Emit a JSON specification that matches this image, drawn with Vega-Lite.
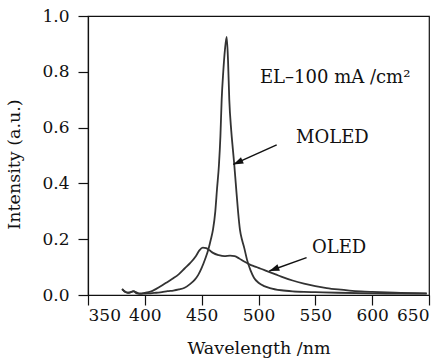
{
  "$schema": "https://vega.github.io/schema/vega-lite/v6.json",
  "autosize": "none",
  "width": 341,
  "height": 279,
  "padding": {"left": 88, "top": 16, "right": 14, "bottom": 65},
  "background": "white",
  "config": {
    "font": "DejaVu Serif",
    "view": {"stroke": "#111", "strokeWidth": 1.2},
    "axis": {
      "grid": false,
      "domainColor": "#111",
      "domainWidth": 1.2,
      "tickColor": "#111",
      "tickWidth": 1.2,
      "tickSize": 10,
      "labelFont": "DejaVu Serif",
      "labelFontSize": 17,
      "labelColor": "#111",
      "titleFont": "DejaVu Serif",
      "titleFontSize": 17.5,
      "titleFontWeight": "normal",
      "titleColor": "#111"
    }
  },
  "datasets": {
    "spectra": [
      {"series": "MOLED", "wl": 380, "I": 0.022},
      {"series": "MOLED", "wl": 383, "I": 0.01},
      {"series": "MOLED", "wl": 386, "I": 0.008},
      {"series": "MOLED", "wl": 390, "I": 0.014},
      {"series": "MOLED", "wl": 393, "I": 0.006},
      {"series": "MOLED", "wl": 397, "I": 0.004},
      {"series": "MOLED", "wl": 400, "I": 0.005},
      {"series": "MOLED", "wl": 405, "I": 0.006},
      {"series": "MOLED", "wl": 410, "I": 0.008},
      {"series": "MOLED", "wl": 415, "I": 0.01},
      {"series": "MOLED", "wl": 420, "I": 0.014},
      {"series": "MOLED", "wl": 425, "I": 0.016},
      {"series": "MOLED", "wl": 430, "I": 0.02},
      {"series": "MOLED", "wl": 435, "I": 0.026},
      {"series": "MOLED", "wl": 440, "I": 0.04},
      {"series": "MOLED", "wl": 444, "I": 0.055},
      {"series": "MOLED", "wl": 447, "I": 0.072},
      {"series": "MOLED", "wl": 450, "I": 0.097},
      {"series": "MOLED", "wl": 453, "I": 0.128},
      {"series": "MOLED", "wl": 456, "I": 0.165},
      {"series": "MOLED", "wl": 458, "I": 0.198},
      {"series": "MOLED", "wl": 460, "I": 0.235},
      {"series": "MOLED", "wl": 462, "I": 0.3},
      {"series": "MOLED", "wl": 463.5, "I": 0.38},
      {"series": "MOLED", "wl": 465.2, "I": 0.466},
      {"series": "MOLED", "wl": 466.5, "I": 0.57},
      {"series": "MOLED", "wl": 467.6, "I": 0.7},
      {"series": "MOLED", "wl": 469, "I": 0.8},
      {"series": "MOLED", "wl": 470.5, "I": 0.88},
      {"series": "MOLED", "wl": 472, "I": 0.925},
      {"series": "MOLED", "wl": 473.2, "I": 0.84},
      {"series": "MOLED", "wl": 474.3, "I": 0.7},
      {"series": "MOLED", "wl": 476, "I": 0.59},
      {"series": "MOLED", "wl": 477.5, "I": 0.52},
      {"series": "MOLED", "wl": 478.7, "I": 0.466},
      {"series": "MOLED", "wl": 480, "I": 0.4},
      {"series": "MOLED", "wl": 482, "I": 0.3},
      {"series": "MOLED", "wl": 483.7, "I": 0.233},
      {"series": "MOLED", "wl": 485.5, "I": 0.198},
      {"series": "MOLED", "wl": 487.5, "I": 0.168},
      {"series": "MOLED", "wl": 490, "I": 0.125},
      {"series": "MOLED", "wl": 493, "I": 0.088},
      {"series": "MOLED", "wl": 496, "I": 0.062},
      {"series": "MOLED", "wl": 500, "I": 0.044},
      {"series": "MOLED", "wl": 505, "I": 0.032},
      {"series": "MOLED", "wl": 510, "I": 0.025},
      {"series": "MOLED", "wl": 520, "I": 0.017},
      {"series": "MOLED", "wl": 530, "I": 0.013},
      {"series": "MOLED", "wl": 540, "I": 0.011},
      {"series": "MOLED", "wl": 550, "I": 0.01},
      {"series": "MOLED", "wl": 570, "I": 0.008},
      {"series": "MOLED", "wl": 600, "I": 0.006},
      {"series": "MOLED", "wl": 630, "I": 0.005},
      {"series": "MOLED", "wl": 648, "I": 0.005},
      {"series": "OLED", "wl": 380, "I": 0.02},
      {"series": "OLED", "wl": 385, "I": 0.008},
      {"series": "OLED", "wl": 390, "I": 0.013},
      {"series": "OLED", "wl": 395, "I": 0.006},
      {"series": "OLED", "wl": 400, "I": 0.008},
      {"series": "OLED", "wl": 405, "I": 0.012},
      {"series": "OLED", "wl": 410, "I": 0.022},
      {"series": "OLED", "wl": 415, "I": 0.034},
      {"series": "OLED", "wl": 420, "I": 0.047},
      {"series": "OLED", "wl": 425, "I": 0.06},
      {"series": "OLED", "wl": 430, "I": 0.075},
      {"series": "OLED", "wl": 435, "I": 0.095},
      {"series": "OLED", "wl": 440, "I": 0.115},
      {"series": "OLED", "wl": 445, "I": 0.14},
      {"series": "OLED", "wl": 448, "I": 0.16},
      {"series": "OLED", "wl": 451, "I": 0.17},
      {"series": "OLED", "wl": 454, "I": 0.168},
      {"series": "OLED", "wl": 457, "I": 0.16},
      {"series": "OLED", "wl": 460, "I": 0.151},
      {"series": "OLED", "wl": 465, "I": 0.143},
      {"series": "OLED", "wl": 470, "I": 0.139},
      {"series": "OLED", "wl": 475, "I": 0.141},
      {"series": "OLED", "wl": 479, "I": 0.139},
      {"series": "OLED", "wl": 483, "I": 0.131},
      {"series": "OLED", "wl": 487, "I": 0.121},
      {"series": "OLED", "wl": 492, "I": 0.11},
      {"series": "OLED", "wl": 497, "I": 0.102},
      {"series": "OLED", "wl": 502, "I": 0.094},
      {"series": "OLED", "wl": 508, "I": 0.085},
      {"series": "OLED", "wl": 515, "I": 0.074},
      {"series": "OLED", "wl": 520, "I": 0.066},
      {"series": "OLED", "wl": 530, "I": 0.052},
      {"series": "OLED", "wl": 540, "I": 0.041},
      {"series": "OLED", "wl": 550, "I": 0.032},
      {"series": "OLED", "wl": 560, "I": 0.025},
      {"series": "OLED", "wl": 570, "I": 0.02},
      {"series": "OLED", "wl": 580, "I": 0.016},
      {"series": "OLED", "wl": 590, "I": 0.013},
      {"series": "OLED", "wl": 600, "I": 0.011},
      {"series": "OLED", "wl": 620, "I": 0.008},
      {"series": "OLED", "wl": 648, "I": 0.006}
    ],
    "arrows": [
      {"label": "MOLED", "x1": 516.0, "y1": 0.538, "x2": 477.8, "y2": 0.468},
      {"label": "OLED", "x1": 542.3, "y1": 0.134, "x2": 509.5, "y2": 0.086}
    ],
    "notes": [
      {"text": "EL–100 mA /cm²", "x": 501.3, "y": 0.76},
      {"text": "MOLED", "x": 533, "y": 0.545},
      {"text": "OLED", "x": 547, "y": 0.15}
    ]
  },
  "layer": [
    {
      "data": {"name": "spectra"},
      "mark": {"type": "line", "color": "#333", "strokeWidth": 1.8, "interpolate": "monotone"},
      "encoding": {
        "x": {
          "field": "wl", "type": "quantitative",
          "scale": {"domain": [350, 650], "nice": false, "zero": false},
          "axis": {
            "title": "Wavelength /nm",
            "values": [350, 400, 450, 500, 550, 600, 650],
            "labelPadding": 2,
            "titleBaseline": "alphabetic",
            "titleY": 58
          }
        },
        "y": {
          "field": "I", "type": "quantitative",
          "scale": {"domain": [0, 1], "nice": false},
          "axis": {
            "title": "Intensity  (a.u.)",
            "values": [0, 0.2, 0.4, 0.6, 0.8, 1.0],
            "format": ".1f",
            "labelPadding": 9,
            "titleBaseline": "middle",
            "titleX": -74,
            "titleY": 148
          }
        },
        "detail": {"field": "series"}
      }
    },
    {
      "data": {"name": "arrows"},
      "mark": {"type": "rule", "color": "#111", "strokeWidth": 1.5},
      "encoding": {
        "x": {"field": "x1", "type": "quantitative"},
        "y": {"field": "y1", "type": "quantitative"},
        "x2": {"field": "x2"},
        "y2": {"field": "y2"}
      }
    },
    {
      "data": {"name": "arrows"},
      "mark": {"type": "point", "shape": "M0,0L0.7,2L-0.7,2Z", "filled": true, "color": "#111", "size": 100, "opacity": 1},
      "encoding": {
        "x": {"field": "x2", "type": "quantitative"},
        "y": {"field": "y2", "type": "quantitative"},
        "angle": {"field": "label", "type": "nominal", "scale": {"domain": ["MOLED", "OLED"], "range": [246, 250]}, "legend": null}
      }
    },
    {
      "data": {"name": "notes"},
      "mark": {"type": "text", "align": "left", "baseline": "alphabetic", "font": "DejaVu Serif", "fontSize": 18, "color": "#111"},
      "encoding": {
        "x": {"field": "x", "type": "quantitative"},
        "y": {"field": "y", "type": "quantitative"},
        "text": {"field": "text"}
      }
    }
  ]
}
